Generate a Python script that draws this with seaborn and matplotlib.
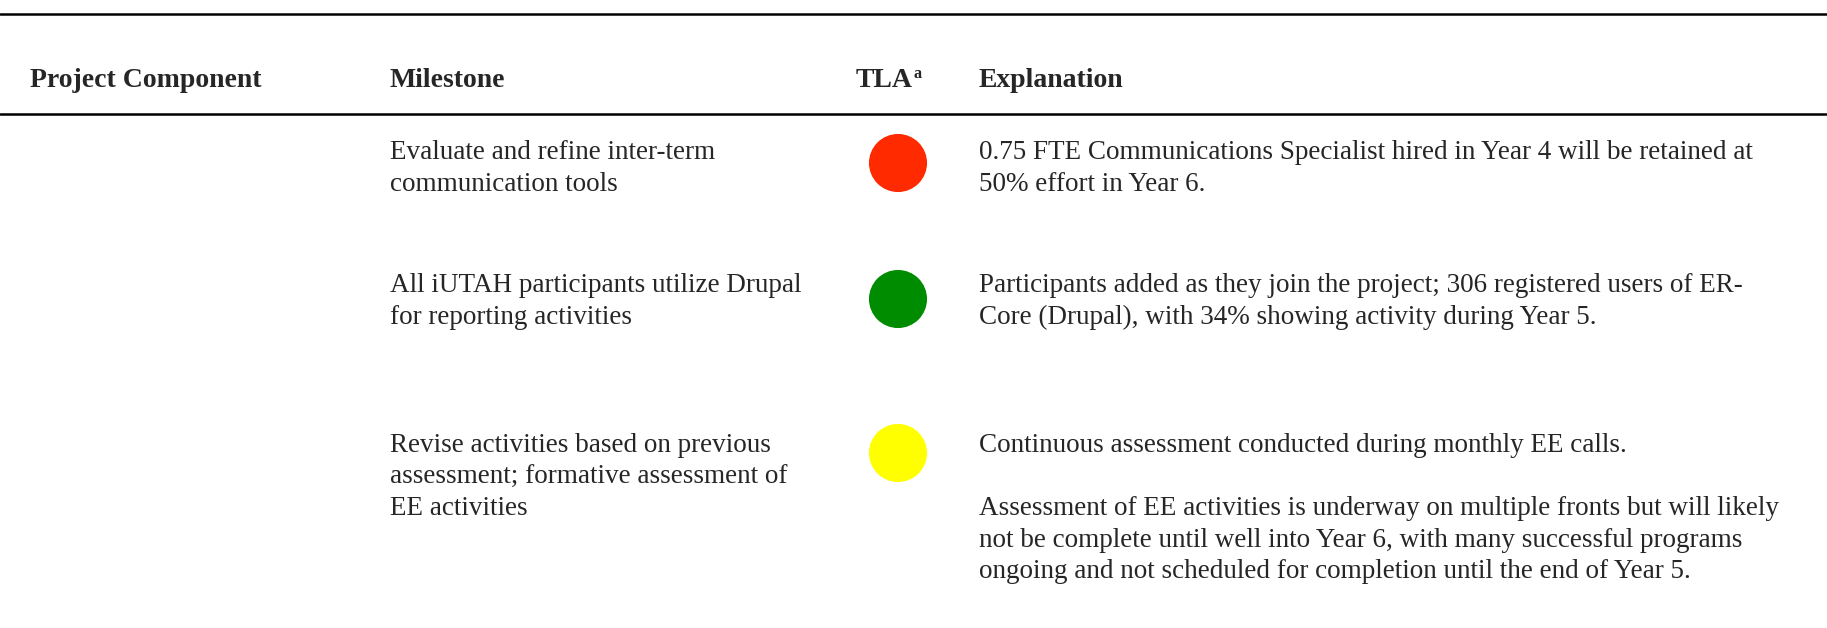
import matplotlib
matplotlib.use("Agg")
import matplotlib.pyplot as plt
import seaborn as sns
import pandas as pd

sns.set_style("white")
plt.rcParams['font.family'] = ['Liberation Serif', 'DejaVu Serif']

# table content
headers = ["Project Component", "Milestone", "TLA", "Explanation"]
milestones = [
    ["Evaluate and refine inter-term", "communication tools"],
    ["All iUTAH participants utilize Drupal", "for reporting activities"],
    ["Revise activities based on previous", "assessment; formative assessment of", "EE activities"],
]
tla = ["red", "green", "yellow"]
explanations = [
    ["0.75 FTE Communications Specialist hired in Year 4 will be retained at",
     "50% effort in Year 6."],
    ["Participants added as they join the project; 306 registered users of ER-",
     "Core (Drupal), with 34% showing activity during Year 5."],
    ["Continuous assessment conducted during monthly EE calls.",
     "",
     "Assessment of EE activities is underway on multiple fronts but will likely",
     "not be complete until well into Year 6, with many successful programs",
     "ongoing and not scheduled for completion until the end of Year 5."],
]
tla_colors = {"red": "#ff2a00", "green": "#008c00", "yellow": "#ffff00"}

# layout (pixels)
col_x = [30, 390, 856, 979]
row_base = [159, 292, 452]   # baseline of first line in each row
circle_off = [4, 7, 1]
pitch = 31.6
fs = 19.5

fig = plt.figure(figsize=(18.27, 6.28), dpi=100)
ax = fig.add_axes([0, 0, 1, 1])
ax.set_xlim(0, 1827)
ax.set_ylim(628, 0)
ax.axis("off")

ax.axhline(14, color="black", lw=1.8)
ax.axhline(114, color="black", lw=1.8)

hdr = []
for x, h in zip(col_x, headers):
    hdr.append(ax.text(x, 87, h, fontsize=fs + 0.5, fontweight="bold",
                       va="baseline", ha="left"))
# superscript after TLA
ax.annotate("a", xy=(1.0, 0.45), xycoords=hdr[2], xytext=(0.5, 0),
            textcoords="offset points", fontsize=fs * 0.6, fontweight="bold",
            va="bottom", ha="left")

for i in range(len(milestones)):
    for j, line in enumerate(milestones[i]):
        ax.text(col_x[1], row_base[i] + j * pitch, line, fontsize=fs, va="baseline")
    for j, line in enumerate(explanations[i]):
        ax.text(col_x[3], row_base[i] + j * pitch, line, fontsize=fs, va="baseline")

df = pd.DataFrame({"x": [898] * len(tla),
                   "y": [r + o for r, o in zip(row_base, circle_off)],
                   "status": tla})
sns.scatterplot(data=df, x="x", y="y", hue="status", palette=tla_colors,
                s=1750, linewidth=0, legend=False, ax=ax)
ax.set_xlim(0, 1827)
ax.set_ylim(628, 0)
ax.axis("off")

fig.savefig("out.png", dpi=100)
